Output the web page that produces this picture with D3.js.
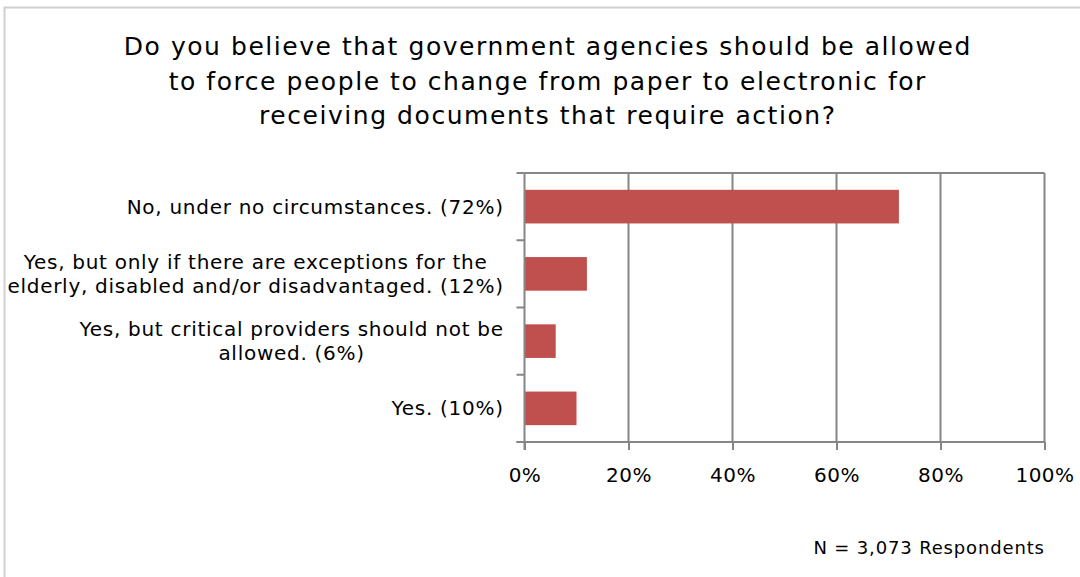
<!DOCTYPE html>
<html>
<head>
<meta charset="utf-8">
<script src="https://cdn.jsdelivr.net/npm/d3@7"></script>
<style>
  html, body { margin: 0; padding: 0; background: #fff; }
  svg { display: block; font-family: "DejaVu Sans", Verdana, sans-serif; }
</style>
</head>
<body>
<svg id="chart" width="1080" height="577"></svg>
<script>
// Survey answers, top to bottom, with their share of respondents (%)
const categories = [
  ["No, under no circumstances. (72%)"],
  ["Yes, but only if there are exceptions for the", "elderly, disabled and/or disadvantaged. (12%)"],
  ["Yes, but critical providers should not be", "allowed. (6%)"],
  ["Yes. (10%)"]
];
const values = [72, 12, 6, 10];
const xTicks = [0, 20, 40, 60, 80, 100];
const titleLines = [
  "Do you believe that government agencies should be allowed",
  "to force people to change from paper to electronic for",
  "receiving documents that require action?"
];
const footnote = "N = 3,073 Respondents";

const svg = d3.select("#chart");
const W = 1080, H = 577;
const plot = { left: 524.5, right: 1044.5, top: 173, bottom: 442 };
const gridColor = "#868686";
const barColor = "#c0504d";

// outer frame of the chart area
svg.append("rect")
  .attr("x", 4.5).attr("y", 7.5)
  .attr("width", W + 10).attr("height", H + 10)
  .attr("fill", "#fff")
  .attr("stroke", "#d0d0d0")
  .attr("stroke-width", 2);

// title
const titleSpacing = 1.55;
svg.append("g").selectAll("text")
  .data(titleLines)
  .join("text")
  .attr("x", 547 + titleSpacing / 2)
  .attr("y", (d, i) => 55 + i * 34.5)
  .attr("text-anchor", "middle")
  .attr("font-size", 25)
  .attr("letter-spacing", titleSpacing)
  .attr("fill", "#000")
  .text(d => d);

const x = d3.scaleLinear().domain([0, 100]).range([plot.left, plot.right]);
const y = d3.scaleBand()
  .domain(d3.range(categories.length))
  .range([plot.top, plot.bottom])
  .paddingInner(0.5)
  .paddingOuter(0.25);

// vertical gridlines (including the right-hand border of the plot)
svg.append("g").selectAll("line")
  .data(xTicks.slice(1))
  .join("line")
  .attr("x1", d => x(d)).attr("x2", d => x(d))
  .attr("y1", plot.top).attr("y2", plot.bottom)
  .attr("stroke", gridColor)
  .attr("stroke-width", 2);

// top border of the plot
svg.append("line")
  .attr("x1", plot.left).attr("x2", plot.right)
  .attr("y1", plot.top).attr("y2", plot.top)
  .attr("stroke", gridColor).attr("stroke-width", 2);

// bars
svg.append("g").selectAll("rect")
  .data(values)
  .join("rect")
  .attr("x", x(0))
  .attr("y", (d, i) => y(i))
  .attr("width", d => x(d) - x(0))
  .attr("height", y.bandwidth())
  .attr("fill", barColor);

// category axis: line and ticks at band boundaries
const step = (plot.bottom - plot.top) / categories.length;
const catAxis = svg.append("g");
catAxis.append("line")
  .attr("x1", plot.left).attr("x2", plot.left)
  .attr("y1", plot.top).attr("y2", plot.bottom + 8)
  .attr("stroke", gridColor).attr("stroke-width", 2);
catAxis.selectAll("line.tick")
  .data(d3.range(categories.length + 1))
  .join("line")
  .attr("class", "tick")
  .attr("x1", plot.left - 8).attr("x2", plot.left)
  .attr("y1", d => plot.top + d * step).attr("y2", d => plot.top + d * step)
  .attr("stroke", gridColor).attr("stroke-width", 2);

// value axis along the bottom
const xAxis = d3.axisBottom(x)
  .tickValues(xTicks)
  .tickSize(8)
  .tickPadding(18)
  .tickFormat(d => d + "%");
const gx = svg.append("g")
  .attr("transform", `translate(0,${plot.bottom})`)
  .call(xAxis);
gx.select(".domain").remove();
gx.selectAll(".tick line").attr("stroke", gridColor).attr("stroke-width", 2);
gx.selectAll(".tick text")
  .attr("font-size", 20)
  .attr("letter-spacing", 0.5)
  .attr("font-family", "DejaVu Sans, Verdana, sans-serif")
  .attr("fill", "#000");
gx.append("line")
  .attr("x1", plot.left - 8).attr("x2", plot.right)
  .attr("y1", 0).attr("y2", 0)
  .attr("stroke", gridColor).attr("stroke-width", 2);

// category labels: each block right-aligned, lines centred inside it
const labelRight = 503;
const lineH = 23.5;
const labelSize = 20;
const labelSpacing = 0.72;
categories.forEach((lines, i) => {
  const g = svg.append("g");
  const cy = plot.top + (i + 0.5) * step;
  const texts = g.selectAll("text")
    .data(lines)
    .join("text")
    .attr("font-size", labelSize)
    .attr("letter-spacing", labelSpacing)
    .attr("fill", "#000")
    .attr("text-anchor", "middle")
    .attr("y", (d, j) => cy + (j - (lines.length - 1) / 2) * lineH + 7)
    .text(d => d);
  const maxW = d3.max(texts.nodes(), n => n.getComputedTextLength()) - labelSpacing;
  texts.attr("x", labelRight - maxW / 2 + labelSpacing / 2);
});

// respondent count
svg.append("text")
  .attr("x", 1044 + 0.85)
  .attr("y", 554)
  .attr("text-anchor", "end")
  .attr("font-size", 18)
  .attr("letter-spacing", 0.85)
  .attr("fill", "#000")
  .text(footnote);
</script>
</body>
</html>
